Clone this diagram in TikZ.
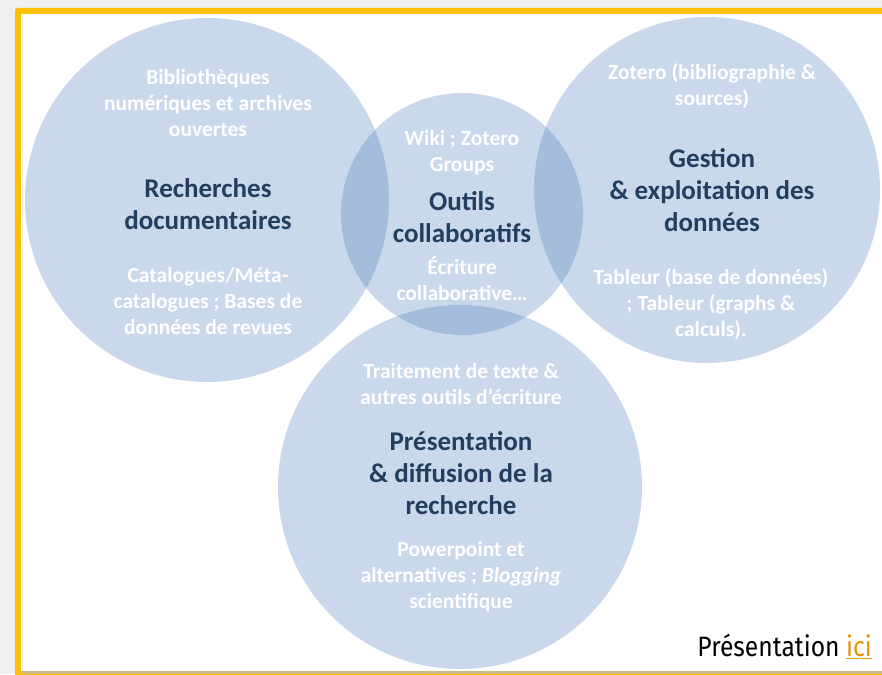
\documentclass[tikz,border=0pt]{standalone}
\usepackage{fontspec}
\setmainfont{Carlito}
\newfontfamily\dinfont{Fira Sans}
\definecolor{pagegrey}{HTML}{F0F0F0}
\definecolor{frameyellow}{HTML}{FFC000}
\definecolor{circleblue}{HTML}{4F81BD}
\definecolor{darktext}{HTML}{233E5F}
\definecolor{linkorange}{HTML}{E8930C}
\definecolor{bottomtan}{HTML}{C8B88A}
\tikzset{
  venn/.style={fill=circleblue, fill opacity=0.3, draw=none},
  lighttext/.style={text=white, align=center, font=\bfseries\fontsize{21.5}{26}\selectfont, inner sep=0pt},
  titletext/.style={text=darktext, align=center, font=\bfseries\fontsize{27}{32}\selectfont, inner sep=0pt}
}
\begin{document}
\begin{tikzpicture}[x=1pt,y=-1pt]
\useasboundingbox (0,0) rectangle (882,674);
% page background and frame
\fill[pagegrey] (0,0) rectangle (882,674);
\fill[frameyellow, rounded corners=2pt] (15,8) rectangle (890,690);
\fill[white] (21,14) rectangle (890,671);
\fill[bottomtan] (21,671) rectangle (890,674);
% circles
\fill[venn] (207,200) circle[radius=182];
\fill[venn] (707,190) circle[radius=173];
\fill[venn] (462,214) circle[radius=121];
\fill[venn] (460,487) circle[radius=182];
% left circle
\node[lighttext] (l1) at (208,103.5) {Bibliothèques\\numériques et archives\\ouvertes};
\node[titletext] (l2) at (208,204) {Recherches\\documentaires};
\node[lighttext] (l3) at (208,301) {Catalogues/Méta-\\catalogues ; Bases de\\données de revues};
% middle circle
\node[lighttext] (m1) at (462,153) {Wiki ; Zotero\\Groups};
\node[titletext] (m2) at (462,217) {Outils\\collaboratifs};
\node[lighttext] (m3) at (462,279) {Écriture\\collaborative…};
% right circle
\node[lighttext] (r1) at (712,86) {Zotero (bibliographie \&\\sources)};
\node[titletext] (r2) at (712,190) {Gestion\\\& exploitation des\\données};
\node[lighttext] (r3) at (711,304) {Tableur (base de données)\\; Tableur (graphs \&\\calculs).};
% bottom circle
\node[lighttext] (b1) at (461,384.5) {Traitement de texte \&\\autres outils d’écriture};
\node[titletext] (b2) at (461,473) {Présentation\\\& diffusion de la\\recherche};
\node[lighttext] (b3) at (461,577) {Powerpoint et\\alternatives ; \textit{Blogging}\\scientifique};
% link
\node[anchor=base east, inner sep=0pt, font=\dinfont\fontsize{28}{30}\selectfont, xscale=0.88, transform shape] (link) at (872,656)
  {Présentation \textcolor{linkorange}{\underline{ici}}};
\end{tikzpicture}
\end{document}
